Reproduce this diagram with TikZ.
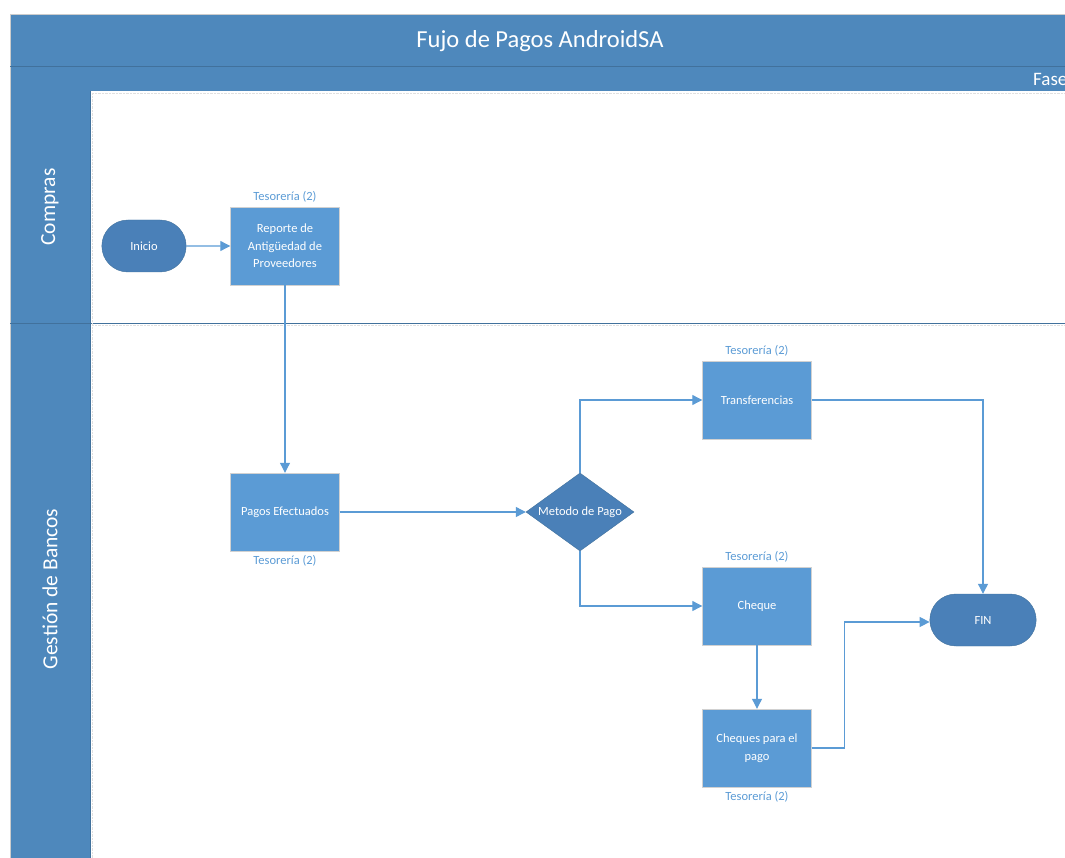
\documentclass[tikz,border=0pt]{standalone}
\usepackage{fontspec}
\setmainfont{Carlito}
\usetikzlibrary{arrows.meta,positioning,shapes.geometric,shapes.misc}
\definecolor{poolblue}{HTML}{4E88BC}
\definecolor{stepblue}{HTML}{5B9BD5}
\definecolor{termblue}{HTML}{4A80B8}
\definecolor{edgeblue}{HTML}{41719C}

\tikzset{
  proc/.style={rectangle,draw=black!18,fill=stepblue,text=white,
    minimum width=109pt,minimum height=78pt,align=center,
    font=\fontsize{12.5}{17.5}\selectfont},
  term/.style={rounded rectangle,draw=edgeblue,fill=termblue,text=white,
    minimum width=91pt,minimum height=52pt,font=\fontsize{12.5}{14}\selectfont},
  decision/.style={diamond,draw=edgeblue,fill=termblue,text=white,
    minimum width=108pt,minimum height=78pt,inner sep=0pt,aspect=1.4,
    font=\fontsize{12.5}{14}\selectfont},
  tes/.style={text=stepblue,font=\fontsize{12.5}{14}\selectfont,inner sep=1pt},
  flow/.style={-{Triangle[length=10pt,width=10pt]},draw=stepblue,line width=1.1pt},
  lane/.style={rotate=90,text=white,font=\fontsize{21.5}{24}\selectfont}
}

\begin{document}
\begin{tikzpicture}[x=1pt,y=-1pt]
  \useasboundingbox (0,0) rectangle (1065,858);
  \clip (0,0) rectangle (1065,858);
  % pool: title band, phase band and lane headers
  \fill[poolblue] (10,14) rectangle (1080,91);
  \fill[poolblue] (10,91) rectangle (90,870);
  \draw[black!20] (10,14) -- (1080,14);
  \draw[black!20] (10,14) -- (10,870);
  \draw[edgeblue,line width=0.8pt] (10,66) -- (1080,66);
  \draw[edgeblue,line width=0.8pt] (90,91) -- (90,870);
  \draw[edgeblue,line width=0.8pt] (10,323) -- (1080,323);
  % dotted lane borders
  \draw[black!12,densely dotted] (92,93) -- (1080,93);
  \draw[black!12,densely dotted] (92,93) -- (92,870);
  \draw[black!12,densely dotted] (92,325) -- (1080,325);
  \node[text=white,font=\fontsize{24.5}{26}\selectfont] (titulo) at (540,41) {Fujo de Pagos AndroidSA};
  \node[anchor=west,text=white,font=\fontsize{19}{20}\selectfont,inner sep=0pt] (fase) at (1033,79) {Fase};
  \node[lane] (compras) at (50,207) {Compras};
  \node[lane] (bancos) at (50,589) {Gestión de Bancos};

  % steps
  \node[term] (inicio) at (144,246) {Inicio};
  \node[proc] (reporte) at (285,246) {Reporte de\\Antigüedad de\\Proveedores};
  \node[proc] (pagos) at (285,512) {Pagos Efectuados};
  \node[decision] (metodo) at (580,512) {Metodo de Pago};
  \node[proc] (transf) at (757,400) {Transferencias};
  \node[proc] (cheque) at (757,606) {Cheque};
  \node[proc] (chpago) at (757,748) {Cheques para el\\pago};
  \node[term,minimum width=113pt] (fin) at (983,620) {FIN};

  % roles
  \node[tes,above=3pt of reporte] (tes1) {Tesorería (2)};
  \node[tes,below=3pt of pagos] (tes2) {Tesorería (2)};
  \node[tes,above=3pt of transf] (tes3) {Tesorería (2)};
  \node[tes,above=3pt of cheque] (tes4) {Tesorería (2)};
  \node[tes,below=3pt of chpago] (tes5) {Tesorería (2)};

  % flow
  \draw[flow] (inicio) -- (reporte);
  \draw[flow] (reporte) -- (pagos);
  \draw[flow] (pagos) -- (metodo);
  \draw[flow] (metodo.north) |- (transf);
  \draw[flow] (metodo.south) |- (cheque);
  \draw[flow] (transf) -| (fin);
  \draw[flow] (cheque) -- (chpago);
  \draw[flow] (chpago.east) -- ++(33,0) |- ([yshift=-2pt]fin.west);
\end{tikzpicture}
\end{document}
